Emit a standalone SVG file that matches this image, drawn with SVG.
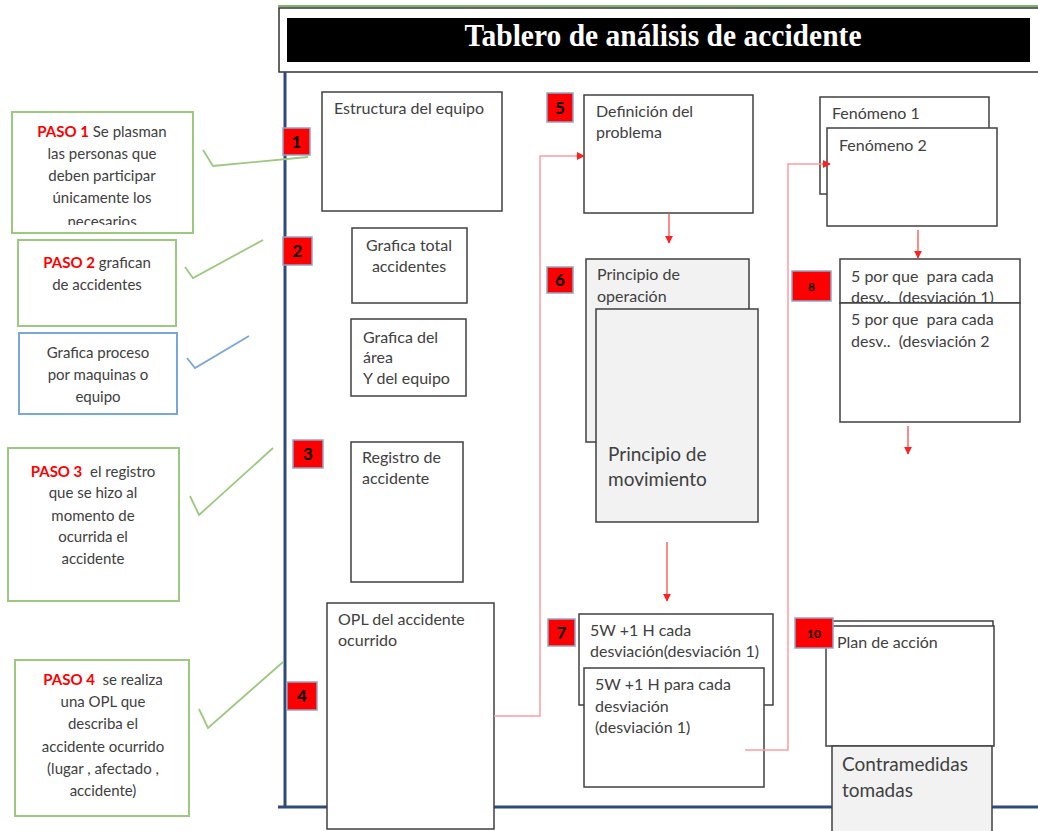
<svg xmlns="http://www.w3.org/2000/svg" width="1038" height="831" viewBox="0 0 1038 831">
<style>
.bx{fill:#fff;stroke:#404040;stroke-width:1.5}
.gr{fill:#f2f2f2;stroke:#404040;stroke-width:1.5}
.t{font-family:Lato,"Liberation Sans",sans-serif;font-size:16px;fill:#404040}
.tb{font-family:Lato,"Liberation Sans",sans-serif;font-size:19px;fill:#404040}
.p{font-family:Lato,"Liberation Sans",sans-serif;font-size:15px;fill:#404040;text-anchor:middle}
.pr{fill:#ff0000;font-weight:bold}
.num rect{fill:#ff0000;stroke:#8ea6cc;stroke-width:1.5}
.num text{font-family:Lato,"Liberation Sans",sans-serif;font-size:17px;font-weight:bold;fill:#000;text-anchor:middle}
.gbox{fill:#fff;stroke:#9cc97f;stroke-width:2}
.bbox{fill:#fff;stroke:#7aa7da;stroke-width:2}
.chk{fill:none;stroke:#9cc97f;stroke-width:1.8}
.chkb{fill:none;stroke:#7aa7da;stroke-width:1.8}
.rl{fill:none;stroke:#ff9d9d;stroke-width:1.5}
.ra{fill:none;stroke:#ff3b3b;stroke-width:1.2}
.axis{stroke:#2e4a7d;stroke-width:3;fill:none}
</style>
<defs>
<marker id="ah" viewBox="0 0 10 10" refX="9" refY="5" markerWidth="8" markerHeight="8" markerUnits="userSpaceOnUse" orient="auto">
<path d="M0,0 L10,5 L0,10 z" fill="#ff2020"/>
</marker>
<clipPath id="c1"><rect x="12" y="112" width="181" height="113"/></clipPath>
</defs>

<!-- title -->
<g id="title">
<line x1="278" y1="6" x2="1038" y2="6" stroke="#5a9a3a" stroke-width="1.5"/>
<rect x="279" y="8" width="762" height="64" fill="#fff" stroke="#333" stroke-width="1.5"/>
<rect x="287" y="18" width="743" height="44" fill="#000"/>
<text x="663" y="46" font-family="'Liberation Serif',serif" font-size="31" font-weight="bold" fill="#fff" text-anchor="middle" textLength="397" lengthAdjust="spacingAndGlyphs">Tablero de análisis de accidente</text>
</g>

<!-- axes -->
<g id="axes">
<line class="axis" x1="285" y1="72" x2="285" y2="807"/>
<line class="axis" x1="278" y1="807" x2="1038" y2="807"/>
</g>

<!-- left notes -->
<g id="paso1">
<rect class="gbox" x="12" y="112" width="181" height="121"/>
<g clip-path="url(#c1)">
<text class="p" x="102" y="137"><tspan class="pr">PASO 1</tspan> Se plasman</text>
<text class="p" x="102" y="159">las personas que</text>
<text class="p" x="102" y="181">deben participar</text>
<text class="p" x="102" y="203">únicamente los</text>
<text class="p" x="102" y="227">necesarios</text>
</g>
</g>
<g id="paso2">
<rect class="gbox" x="18" y="240" width="158" height="86"/>
<text class="p" x="97" y="268"><tspan class="pr">PASO 2</tspan> grafican</text>
<text class="p" x="97" y="290">de accidentes</text>
</g>
<g id="grafica-proceso">
<rect class="bbox" x="19" y="333" width="158" height="81"/>
<text class="p" x="98" y="358">Grafica proceso</text>
<text class="p" x="98" y="380">por maquinas o</text>
<text class="p" x="98" y="402">equipo</text>
</g>
<g id="paso3">
<rect class="gbox" x="8" y="448" width="171" height="153"/>
<text class="p" x="93" y="477" style="white-space:pre"><tspan class="pr">PASO 3</tspan>  el registro</text>
<text class="p" x="93" y="498">que se hizo al</text>
<text class="p" x="93" y="521">momento de</text>
<text class="p" x="93" y="542">ocurrida el</text>
<text class="p" x="93" y="564">accidente</text>
</g>
<g id="paso4">
<rect class="gbox" x="15" y="660" width="174" height="156"/>
<text class="p" x="103" y="685" style="white-space:pre"><tspan class="pr">PASO 4</tspan>  se realiza</text>
<text class="p" x="103" y="707">una OPL que</text>
<text class="p" x="103" y="729">describa el</text>
<text class="p" x="103" y="752">accidente ocurrido</text>
<text class="p" x="103" y="774">(lugar , afectado ,</text>
<text class="p" x="103" y="796">accidente)</text>
</g>

<!-- main nodes -->
<g id="estructura">
<rect class="bx" x="322" y="92" width="180" height="119"/>
<text class="t" x="334" y="114">Estructura del equipo</text>
</g>
<g id="grafica-total">
<rect class="bx" x="352" y="228" width="115" height="75"/>
<text class="t" x="409" y="251" text-anchor="middle">Grafica total</text>
<text class="t" x="409" y="272" text-anchor="middle">accidentes</text>
</g>
<g id="grafica-area">
<rect class="bx" x="351" y="319" width="115" height="77"/>
<text class="t" x="363" y="343">Grafica del</text>
<text class="t" x="363" y="363">área</text>
<text class="t" x="363" y="384">Y del equipo</text>
</g>
<g id="registro">
<rect class="bx" x="351" y="442" width="112" height="140"/>
<text class="t" x="362" y="463">Registro de</text>
<text class="t" x="362" y="484">accidente</text>
</g>
<g id="opl">
<rect class="bx" x="327" y="603" width="167" height="226"/>
<text class="t" x="338" y="625">OPL del accidente</text>
<text class="t" x="338" y="646">ocurrido</text>
</g>
<g id="definicion">
<rect class="bx" x="584" y="95" width="169" height="118"/>
<text class="t" x="596" y="117">Definición del</text>
<text class="t" x="596" y="138">problema</text>
</g>
<g id="principio">
<rect class="gr" x="586" y="259" width="163" height="183"/>
<text class="t" x="597" y="280">Principio de</text>
<text class="t" x="597" y="302">operación</text>
<rect class="gr" x="596" y="309" width="162" height="213"/>
<text class="tb" x="608" y="461">Principio de</text>
<text class="tb" x="608" y="486">movimiento</text>
</g>
<g id="cincow">
<rect class="bx" x="579" y="614" width="194" height="91"/>
<text class="t" x="590" y="636">5W +1 H cada</text>
<text class="t" x="590" y="657">desviación(desviación  1)</text>
<rect class="bx" x="584" y="668" width="180" height="119"/>
<text class="t" x="595" y="690">5W +1 H para cada</text>
<text class="t" x="595" y="712">desviación</text>
<text class="t" x="595" y="733">(desviación 1)</text>
</g>
<g id="fenomeno">
<rect class="bx" x="820" y="97" width="169" height="97"/>
<text class="t" x="832" y="119">Fenómeno 1</text>
<rect class="bx" x="827" y="128" width="170" height="98"/>
<text class="t" x="839" y="151">Fenómeno 2</text>
</g>
<g id="porque">
<rect class="bx" x="840" y="259" width="180" height="44"/>
<text class="t" x="851" y="282" style="white-space:pre">5 por que  para cada</text>
<text class="t" x="851" y="303" style="white-space:pre">desv..  (desviación 1)</text>
<rect class="bx" x="840" y="303" width="180" height="119"/>
<text class="t" x="851" y="325" style="white-space:pre">5 por que  para cada</text>
<text class="t" x="851" y="347" style="white-space:pre">desv..  (desviación 2</text>
</g>
<g id="plan">
<rect class="bx" x="827" y="621" width="166" height="120"/>
<rect class="bx" x="826" y="626" width="168" height="120"/>
<text class="t" x="837" y="648">Plan de acción</text>
</g>
<g id="contramedidas">
<rect class="gr" x="832" y="746" width="160" height="90"/>
<text class="tb" x="842" y="771">Contramedidas</text>
<text class="tb" x="842" y="797">tomadas</text>
</g>

<!-- connectors -->
<g id="connectors">
<polyline class="chk" points="203,150 213,166 308,157"/>
<polyline class="chk" points="185,267 193,278 263,240"/>
<polyline class="chkb" points="187,358 195,368 249,336"/>
<polyline class="chk" points="190,496 199,515 273,448"/>
<polyline class="chk" points="199,709 208,728 283,662"/>
<polyline class="rl" points="494,716 540,716 540,156 576,156"/>
<line class="ra" x1="576" y1="156" x2="584" y2="156" marker-end="url(#ah)"/>
<polyline class="rl" points="745,750 788,750 788,164 822,164"/>
<line class="ra" x1="822" y1="164" x2="830" y2="164" marker-end="url(#ah)"/>
<line class="ra" x1="669" y1="214" x2="669" y2="243" marker-end="url(#ah)"/>
<line class="ra" x1="667" y1="542" x2="667" y2="601" marker-end="url(#ah)"/>
<line class="ra" x1="918" y1="230" x2="918" y2="258" marker-end="url(#ah)"/>
<line class="ra" x1="908" y1="426" x2="908" y2="454" marker-end="url(#ah)"/>
</g>

<!-- step numbers -->
<g id="n1" class="num"><rect x="283" y="128" width="27" height="27"/><text x="296.5" y="148">1</text></g>
<g id="n2" class="num"><rect x="283" y="237" width="29" height="28"/><text x="297.5" y="257">2</text></g>
<g id="n3" class="num"><rect x="293" y="440" width="30" height="28"/><text x="308" y="460">3</text></g>
<g id="n4" class="num"><rect x="287" y="682" width="30" height="28"/><text x="302" y="702">4</text></g>
<g id="n5" class="num"><rect x="547" y="93" width="26" height="29"/><text x="560" y="114">5</text></g>
<g id="n6" class="num"><rect x="547" y="267" width="26" height="26"/><text x="560" y="286">6</text></g>
<g id="n7" class="num"><rect x="548" y="619" width="27" height="27"/><text x="561.5" y="639">7</text></g>
<g id="n8" class="num"><rect x="792" y="271" width="39" height="30"/><text x="811.5" y="291" style="font-size:12px">8</text></g>
<g id="n10" class="num"><rect x="795" y="618" width="38" height="30"/><text x="814" y="638" style="font-size:12px">10</text></g>
</svg>
